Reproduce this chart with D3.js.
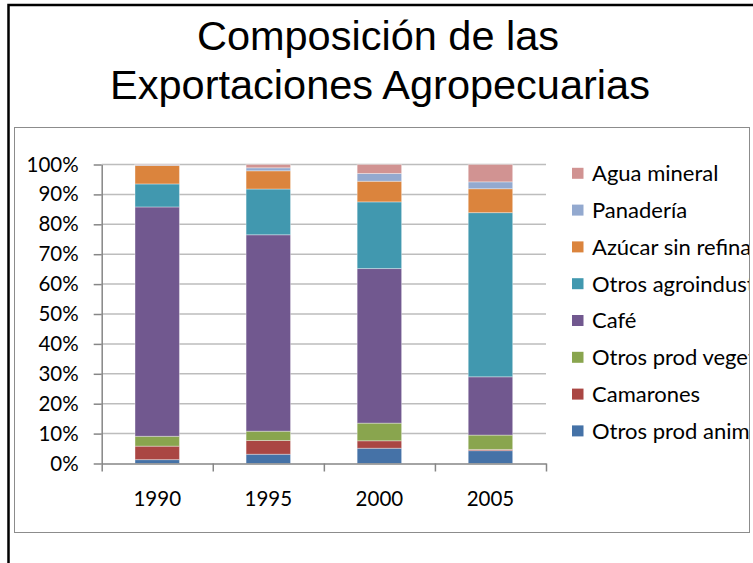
<!DOCTYPE html>
<html>
<head>
<meta charset="utf-8">
<script src="https://cdn.jsdelivr.net/npm/d3@7"></script>
<style>
body{margin:0;background:#fff;}
svg{display:block;}
</style>
</head>
<body>
<script>
var width=753,
	height=563;

// datos (% de las exportaciones agropecuarias)
var years=["1990","1995","2000","2005"];
var series=["Otros prod animales","Camarones","Otros prod vegetales","Café","Otros agroindustriales","Azúcar sin refinar","Panadería","Agua mineral"];
var colors=["#4572A7","#AA4643","#89A54E","#71588F","#4198AF","#DB843D","#93A9CF","#D19392"];
var otrosAnim=[1.3,3.1,5.1,4.3];
var camarones=[4.5,4.6,2.5,0.4];
var otrosVeget=[3.3,3.1,5.9,4.8];
var cafe=[76.7,65.7,51.7,19.5];
var agroind=[7.7,15.3,22.3,54.9];
var azucar=[6.2,6.1,6.9,8.0];
var panaderia=[0.2,1.0,2.6,2.3];
var agua=[0.1,1.1,3.0,5.8];
var yTicks=[0,0.1,0.2,0.3,0.4,0.5,0.6,0.7,0.8,0.9,1];

var values=[otrosAnim,camarones,otrosVeget,cafe,agroind,azucar,panaderia,agua];
var rows=years.map(function(y,i){
	var r={year:y};
	series.forEach(function(s,k){r[s]=values[k][i]});
	return r;
});
// normalizar a 100%
rows.forEach(function(r){
	var t=d3.sum(series,function(s){return r[s]});
	series.forEach(function(s){r[s]=r[s]/t});
});

var svg=d3.select("body").append("svg").attr("width",width).attr("height",height);

// marcos
svg.append("rect").attr("x",8.5).attr("y",5).attr("width",800).attr("height",600)
	.attr("fill","none").attr("stroke","#000").attr("stroke-width",2.5);
svg.append("rect").attr("x",14.5).attr("y",127.5).attr("width",735).attr("height",405)
	.attr("fill","none").attr("stroke","#8c8c8c").attr("stroke-width",1);

// titulo
var title=svg.append("text").attr("text-anchor","middle")
	.style("font-family","'Liberation Sans',Arial,sans-serif").style("font-size","41.5px").attr("fill","#000");
title.append("tspan").attr("x",378).attr("y",50).text("Composición de las");
title.append("tspan").attr("x",380).attr("y",99).text("Exportaciones Agropecuarias");

var x0=101.7,x1=546,y0=463.5,y1=164.5;
var x=d3.scaleBand().domain(years).range([x0,x1]).paddingInner(0.6).paddingOuter(0.3);
var xb=d3.scaleLinear().domain([0,years.length]).range([x0,x1]);
var y=d3.scaleLinear().domain([0,1]).range([y0,y1]);

// rejilla
svg.append("g").selectAll("line").data(yTicks.filter(function(d){return d>0}))
	.enter().append("line")
	.attr("x1",x0).attr("x2",x1)
	.attr("y1",function(d){return y(d)}).attr("y2",function(d){return y(d)})
	.attr("stroke","#bdbdbd").attr("stroke-width",1.5);

// barras
var stack=d3.stack().keys(series)(rows);
svg.append("g").selectAll("g").data(stack).enter().append("g")
	.attr("fill",function(d,i){return colors[i]})
	.selectAll("rect").data(function(d){return d}).enter().append("rect")
		.attr("x",function(d){return x(d.data.year)})
		.attr("width",x.bandwidth())
		.attr("y",function(d){return y(d[1])})
		.attr("height",function(d){return y(d[0])-y(d[1])})
		.attr("stroke","#fff").attr("stroke-opacity",0.35).attr("stroke-width",1);

var font="Lato,'Open Sans',sans-serif";

// eje y
var yAxis=svg.append("g").attr("transform","translate("+x0+",0)")
	.call(d3.axisLeft(y).tickValues(yTicks).tickFormat(d3.format(".0%")).tickSize(8).tickSizeOuter(0).tickPadding(15));
yAxis.select(".domain").attr("stroke","#868686").attr("stroke-width",1.5);
yAxis.selectAll(".tick line").attr("stroke","#868686").attr("stroke-width",1.5);
yAxis.selectAll("text").style("font-family",font).style("font-size","20.5px").attr("fill","#000");

// eje x
var xTickAxis=svg.append("g").attr("transform","translate(0,"+y0+")")
	.call(d3.axisBottom(xb).ticks(years.length).tickFormat("").tickSize(8).tickSizeOuter(0));
xTickAxis.select(".domain").attr("stroke","#868686").attr("stroke-width",1.5);
xTickAxis.selectAll(".tick line").attr("stroke","#868686").attr("stroke-width",1.5);

var xAxis=svg.append("g").attr("transform","translate(0,"+y0+")")
	.call(d3.axisBottom(x).tickSize(0).tickPadding(28));
xAxis.select(".domain").remove();
xAxis.selectAll("text").style("font-family",font).style("font-size","20.5px").attr("fill","#000");

// leyenda (recortada por el borde del grafico, como en el original)
svg.append("clipPath").attr("id","legclip").append("rect")
	.attr("x",540).attr("y",130).attr("width",209).attr("height",330);
var legend=svg.append("g").attr("clip-path","url(#legclip)");
var legItems=series.slice().reverse();
var li=legend.selectAll("g").data(legItems).enter().append("g")
	.attr("transform",function(d,i){return "translate(572,"+(173.3+i*36.8)+")"});
li.append("rect").attr("x",0).attr("y",-5.5).attr("width",11.5).attr("height",11)
	.attr("fill",function(d){return colors[series.indexOf(d)]});
li.append("text").attr("x",20).attr("dy","0.36em")
	.style("font-family",font).style("font-size","22px").attr("fill","#000")
	.text(function(d){return d});
</script>
</body>
</html>
